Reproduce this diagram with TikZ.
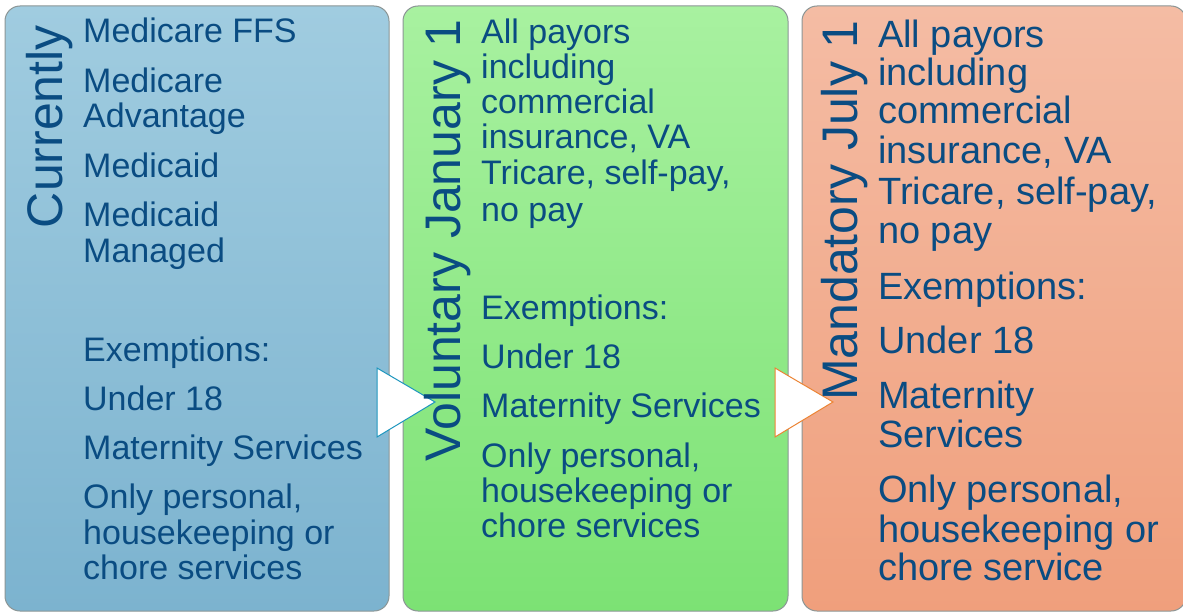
\documentclass[tikz,border=0pt]{standalone}
\usepackage{fontspec}
\setmainfont{Liberation Sans}
\definecolor{textColor}{RGB}{10,76,130}
\definecolor{blueTop}{RGB}{160,204,224}
\definecolor{blueBottom}{RGB}{124,179,207}
\definecolor{greenTop}{RGB}{168,241,160}
\definecolor{greenBottom}{RGB}{124,226,116}
\definecolor{orangeTop}{RGB}{244,188,164}
\definecolor{orangeBottom}{RGB}{240,159,124}
\definecolor{edgeColor}{RGB}{140,150,150}
\definecolor{blueArrow}{RGB}{30,150,190}
\definecolor{orangeArrow}{RGB}{236,132,52}
\tikzstyle{pixels} = [x = 1pt, y = -1pt]
\tikzstyle{panelStyle} = [draw=edgeColor, line width=1pt, rounded corners=15pt]
\tikzstyle{titleText} = [rotate=90, anchor=base east, inner sep=0pt, text=textColor, font=\fontsize{50}{50}\selectfont]
\tikzstyle{itemText} = [anchor=base west, inner sep=0pt, text=textColor, font=\fontsize{34}{35}\selectfont]
\tikzstyle{bigItemText} = [itemText, font=\fontsize{38}{40}\selectfont]
\tikzstyle{arrowStyle} = [fill=white, line width=1pt, line join=miter]
\newcommand{\panel}[4]{\shadedraw [panelStyle, top color=#3, bottom color=#4] (#1, 6) rectangle (#2, 611);}
\newcommand{\arrowHead}[2]{\filldraw [arrowStyle, draw=#2] (#1, 368) -- (#1 + 58, 402) -- (#1, 437) -- cycle;}

\begin{document}
\begin{tikzpicture}[pixels]
  \useasboundingbox (0,0) rectangle (1183,615);
  \fill [white] (0,0) rectangle (1183,615);
  \begin{scope}
    \clip (0,0) rectangle (1183,615);
    \panel{5}{389}{blueTop}{blueBottom}
    \panel{403}{788}{greenTop}{greenBottom}
    \panel{802}{1186}{orangeTop}{orangeBottom}
  \end{scope}

  \arrowHead{377}{blueArrow}
  \arrowHead{775}{orangeArrow}

  \node [titleText] (currently) at (62, 25) {Currently};
  \node [titleText] (voluntary) at (460, 19) {Voluntary January 1};
  \node [titleText] (mandatory) at (857, 20) {Mandatory July 1};

  % first column
  \foreach \y/\t [count=\i] in {43/Medicare FFS, 93/Medicare, 128/Advantage, 177/Medicaid,
      226/Medicaid, 262/Managed, 361/Exemptions:, 410/Under 18, 459/Maternity Services,
      {508/Only personal,}, 544/housekeeping or, 579/chore services} {
    \node [itemText] (cur\i) at (83, \y) {\t};
  }
  % second column
  \foreach \y/\t [count=\i] in {44/All payors, 79/including, 114/commercial, {149/insurance, VA},
      {184/Tricare, self-pay,}, 221/no pay, 319/Exemptions:, 368/Under 18, 417/Maternity Services,
      {467/Only personal,}, 502/housekeeping or, 537/chore services} {
    \node [itemText] (vol\i) at (481, \y) {\t};
  }
  % third column
  \foreach \y/\t [count=\i] in {48/All payors, 86/including, 124/commercial, {164/insurance, VA},
      {204/Tricare, self-pay,}, 243/no pay, 299/Exemptions:, 353/Under 18, 408/Maternity,
      447/Services, {502/Only personal,}, 542/housekeeping or, 580/chore service} {
    \node [bigItemText] (man\i) at (878, \y) {\t};
  }
\end{tikzpicture}
\end{document}
